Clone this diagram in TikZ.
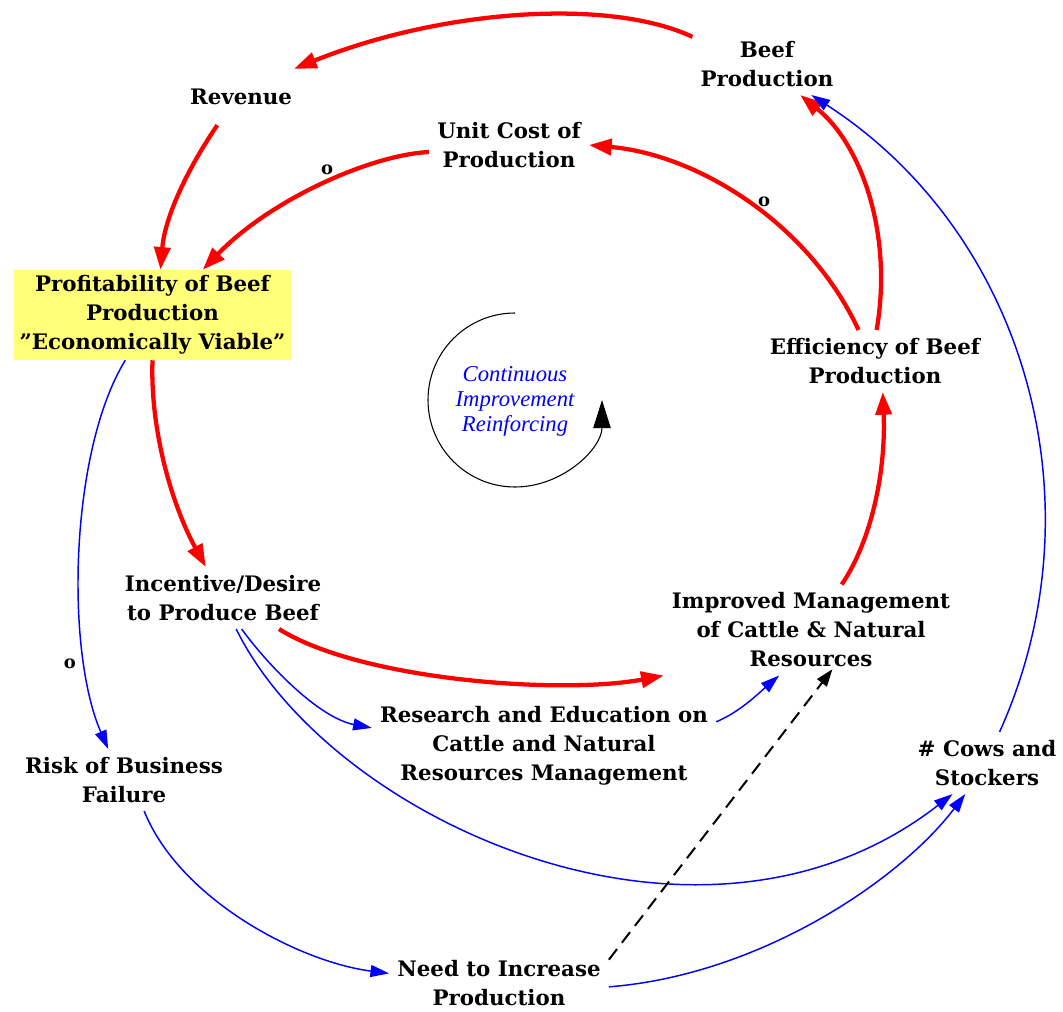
\documentclass[tikz,border=0pt]{standalone}
\usepackage{fontspec}
\setmainfont{DejaVu Serif}
\newfontfamily\loopfont{Liberation Serif}
\usetikzlibrary{arrows.meta}
\definecolor{linkred}{RGB}{255,0,0}
\definecolor{linkblue}{RGB}{0,0,255}
\definecolor{hiyellow}{RGB}{255,255,120}
\begin{document}
\begin{tikzpicture}[x=0.75pt,y=-0.75pt,
  var/.style={font=\fontsize{16pt}{21.75pt}\selectfont\bfseries, align=center, inner sep=6pt},
  keyvar/.style={var, fill=hiyellow, minimum width=207.75pt, minimum height=67.5pt, inner sep=0pt},
  looplabel/.style={font=\loopfont\itshape\fontsize{17pt}{18.75pt}\selectfont, text=linkblue, align=center},
  polarity/.style={font=\fontsize{13.5pt}{15pt}\selectfont\bfseries, inner sep=1pt},
  redlink/.style={draw=linkred, line width=3.2pt, -{Triangle[length=17pt,width=12pt]}},
  bluelink/.style={draw=linkblue, line width=1.1pt, -{Triangle[length=14pt,width=9pt]}},
  delaylink/.style={draw=black, line width=1.5pt, dash pattern=on 10pt off 6pt, -{Triangle[length=13pt,width=9pt]}},
  looparrow/.style={draw=black, line width=0.8pt, -{Triangle[length=21pt,width=13pt]}}]
\useasboundingbox (0,0) rectangle (1063,1012);

% variables
\node[var] (beef) at (767,64) {Beef\\Production};
\node[var, inner ysep=15pt] (rev) at (241,97) {Revenue};
\node[var] (unit) at (509,145) {Unit Cost of\\Production};
\node[keyvar] (prof) at (152.5,315) {Profitability of Beef\\Production\\\symbol{34}Economically Viable\symbol{34}};
\node[var] (eff) at (875,361) {Efficiency of Beef\\Production};
\node[var] (inc) at (223,598) {Incentive/Desire\\to Produce Beef};
\node[var] (imp) at (811,630) {Improved Management\\of Cattle \& Natural\\Resources};
\node[var] (res) at (544,746) {Research and Education on\\Cattle and Natural\\Resources Management};
\node[var] (risk) at (124,780) {Risk of Business\\Failure};
\node[var] (cows) at (987,763) {\# Cows and\\Stockers};
\node[var] (need) at (499,983) {Need to Increase\\Production};

% reinforcing loop marker
\node[looplabel] (loop) at (515,401) {Continuous\\Improvement\\Reinforcing};
\draw[looparrow] (515,313) arc[start angle=270, end angle=0, radius=87];

% reinforcing (red) links
\draw[redlink] (beef.160) .. controls (610,-2) and (443,9) .. (rev.28);
\draw[redlink] (rev.-130) .. controls (190,165) and (165,215) .. (prof.80);
\draw[redlink] (unit.185) .. controls (370,155) and (270,200) .. (prof.42);
\draw[redlink] (eff.118) .. controls (810,225) and (700,155) .. (unit.east);
\draw[redlink] (eff.87) .. controls (893,235) and (862,145) .. (beef.-43);
\draw[redlink] (prof.south) .. controls (150,430) and (172,505) .. (inc.119);
\draw[redlink] (inc.-29) .. controls (360,680) and (560,695) .. (imp.south west);
\draw[redlink] (imp.56) .. controls (872,540) and (886,470) .. (eff.-76);

% other (blue) links
\draw[bluelink] (prof.-121) .. controls (70,450) and (65,650) .. (risk.117);
\draw[bluelink] (inc.-59) .. controls (270,668) and (320,718) .. (res.174);
\draw[bluelink] (inc.-67) .. controls (330,820) and (700,990) .. (cows.-138);
\draw[bluelink] (res.8) .. controls (740,712) and (760,692) .. (imp.-125);
\draw[bluelink] (risk.-57) .. controls (180,900) and (300,962) .. (need.175);
\draw[bluelink] (need.-2) .. controls (760,975) and (900,880) .. (cows.-125);
\draw[bluelink] (cows.68) .. controls (1103,503) and (1025,233) .. (beef.-35);

% delayed link
\draw[delaylink, shorten >=-6pt] (need.12) -- (imp.-70);

% polarity marks
\node[polarity] (p1) at (327,170) {o};
\node[polarity] (p2) at (764,202) {o};
\node[polarity] (p3) at (70,664) {o};
\end{tikzpicture}
\end{document}
